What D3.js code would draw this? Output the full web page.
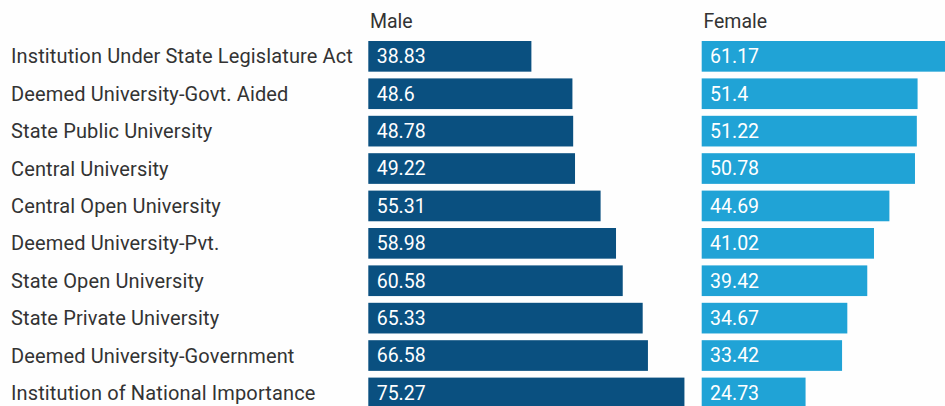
<!DOCTYPE html>
<html><head><meta charset="utf-8">
<script src="https://cdn.jsdelivr.net/npm/d3@7"></script>
<style>
html,body{margin:0;padding:0;background:#fefefe;}
svg{display:block;font-family:Roboto, "Noto Sans", sans-serif;}
</style></head>
<body><svg id="c" width="945" height="406"></svg>
<script>
const categories = ["Institution Under State Legislature Act","Deemed University-Govt. Aided","State Public University","Central University","Central Open University","Deemed University-Pvt.","State Open University","State Private University","Deemed University-Government","Institution of National Importance"];
const maleValues = [38.83,48.6,48.78,49.22,55.31,58.98,60.58,65.33,66.58,75.27];
const femaleValues = [61.17,51.4,51.22,50.78,44.69,41.02,39.42,34.67,33.42,24.73];
const seriesNames = ["Male","Female"];

const svg = d3.select("#c");
const step = 37.4, pad = 0.18;
const y = d3.scaleBand().domain(categories).range([41, 41 + step*(categories.length - pad)]).paddingInner(pad).paddingOuter(0);
const x = d3.scaleLinear().domain([0,100]).range([0,420]);
const cols = [{name:seriesNames[0], vals:maleValues, x0:368.3, color:"#0a5080"},
              {name:seriesNames[1], vals:femaleValues, x0:701.7, color:"#20a3d6"}];

svg.append("g").selectAll("text").data(categories).join("text")
  .attr("x", 11).attr("y", d => y(d) + y.bandwidth()/2).attr("dy","0.35em")
  .attr("fill","#333").attr("font-size","20px").attr("letter-spacing","0.13px").text(d => d);

cols.forEach(c => {
  const g = svg.append("g").attr("transform", `translate(${c.x0},0)`);
  g.append("text").attr("x", 1.7).attr("y", 28).attr("fill","#333").attr("font-size","19.5px").text(c.name);
  g.selectAll("rect").data(c.vals).join("rect")
    .attr("x", 0).attr("y", (d,i) => y(categories[i]))
    .attr("width", d => x(d)).attr("height", y.bandwidth()).attr("fill", c.color);
  g.selectAll("text.v").data(c.vals).join("text").attr("class","v")
    .attr("x", 8.4).attr("y", (d,i) => y(categories[i]) + y.bandwidth()/2).attr("dy","0.35em")
    .attr("fill","#fff").attr("font-size","19.5px").text(d => d);
});
</script></body></html>
